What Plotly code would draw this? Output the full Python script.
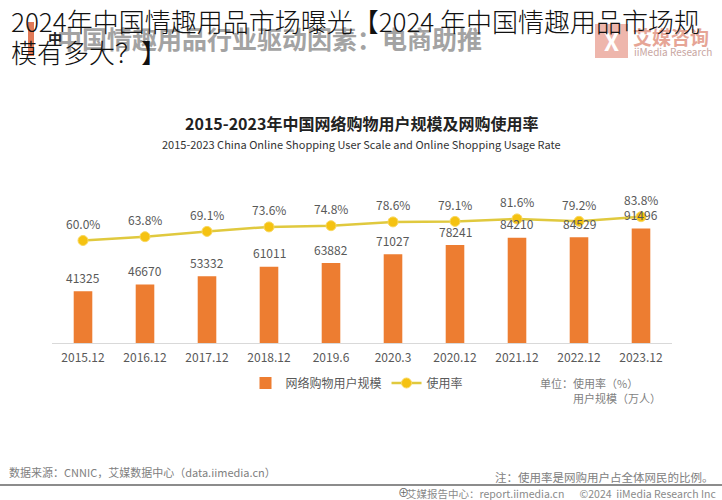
import plotly.graph_objects as go

categories = ["2015.12", "2016.12", "2017.12", "2018.12", "2019.6",
              "2020.3", "2020.12", "2021.12", "2022.12", "2023.12"]
users = [41325, 46670, 53332, 61011, 63882, 71027, 78241, 84210, 84529, 91496]
rates = [60.0, 63.8, 69.1, 73.6, 74.8, 78.6, 79.1, 81.6, 79.2, 83.8]
rate_labels = ["60.0%", "63.8%", "69.1%", "73.6%", "74.8%", "78.6%",
               "79.1%", "81.6%", "79.2%", "83.8%"]

W, H = 722, 500
FONT = "Noto Sans CJK SC"
GRAY = "#595959"

def px(x):
    return x / W

def py(y):
    return 1 - y / H

fig = go.Figure()
fig.add_trace(go.Bar(
    x=categories, y=users, name="网络购物用户规模",
    marker=dict(color="#ED7D31", line=dict(width=0)),
    width=0.3, yaxis="y",
))
fig.add_trace(go.Scatter(
    x=categories, y=rates, name="使用率", mode="lines+markers",
    line=dict(color="#E0C93E", width=2.5),
    marker=dict(color="#F5C211", size=10, line=dict(color="#F9D860", width=1)),
    yaxis="y2",
))

annotations = []
for i, v in enumerate(users):
    annotations.append(dict(x=i, y=v, xref="x", yref="y", text=str(v),
                            showarrow=False, yshift=14, yanchor="middle",
                            font=dict(family=FONT, size=12, color=GRAY)))
for i, (v, t) in enumerate(zip(rates, rate_labels)):
    annotations.append(dict(x=i, y=v, xref="x", yref="y2", text=t,
                            showarrow=False, yshift=17, yanchor="middle",
                            font=dict(family=FONT, size=12, color=GRAY)))

def txt(x, y, text, size, color, xanchor="left", weight=None, family=FONT):
    f = dict(family=family, size=size, color=color)
    if weight:
        f["weight"] = weight
    annotations.append(dict(x=px(x), y=py(y), xref="paper", yref="paper",
                            text=text, showarrow=False, xanchor=xanchor,
                            yanchor="middle", font=f))

# chart titles
txt(361, 123, "2015-2023年中国网络购物用户规模及网购使用率", 16, "#222222", "center", 700)
txt(361, 144, "2015-2023 China Online Shopping User Scale and Online Shopping Usage Rate", 11, "#333333", "center")

# header (behind)
txt(55, 38, "中国情趣用品行业驱动因素：电商助推", 25, "#a3a3a3", "left", 700)
txt(46, 38, "中", 14, "#222222", "left", 700)
# logo text
txt(631, 37, "艾媒咨询", 19, "#e6a596", "left", 700)
txt(632, 52, "iiMedia Research", 10, "#c8a6a2", "left")
txt(611, 41, "X", 24, "#ffffff", "center", 700)

# overlaid black page title
txt(9, 20, "2024年中国情趣用品市场曝光【2024 年中国情趣用品市场规", 26, "#111111", "left", 300)
txt(9, 52, "模有多大？】", 26, "#111111", "left", 300)

# units
txt(538, 383, "单位：使用率（%）", 11, "#7f7f7f")
txt(571, 398, "用户规模（万人）", 11, "#7f7f7f")

# footer
txt(7, 472, "数据来源：CNNIC，艾媒数据中心（data.iimedia.cn）", 11, "#808080")
txt(716, 477, "注：使用率是网购用户占全体网民的比例。", 11.5, "#808080", "right")
txt(718, 493, "艾媒报告中心：report.iimedia.cn　  ©2024  iiMedia Research Inc", 10.5, "#8a8a8a", "right")
txt(403, 492, "⊕", 11, "#666666", "center")

shapes = [
    dict(type="rect", xref="paper", yref="paper", x0=px(28), x1=px(34), y0=py(56), y1=py(22),
         fillcolor="#e07a58", line=dict(width=0), layer="above"),
    dict(type="rect", xref="paper", yref="paper", x0=px(595), x1=px(628), y0=py(58), y1=py(24),
         fillcolor="#eeb6ac", line=dict(width=0), layer="above"),
    dict(type="line", xref="paper", yref="paper", x0=0, x1=1, y0=py(485), y1=py(485),
         line=dict(color="#8c8c8c", width=2)),
]

fig.update_layout(
    width=W, height=H,
    margin=dict(l=0, r=0, t=0, b=0),
    paper_bgcolor="white", plot_bgcolor="white",
    font=dict(family=FONT, size=12, color=GRAY),
    showlegend=True,
    legend=dict(orientation="h", x=px(357), xanchor="center", y=py(383), yanchor="middle",
                font=dict(family=FONT, size=12, color=GRAY), itemwidth=30,
                bgcolor="rgba(0,0,0,0)", traceorder="normal"),
    xaxis=dict(domain=[px(52), px(672)], showgrid=False, zeroline=False,
               showline=True, linecolor="#d9d9d9", linewidth=1, ticks="",
               tickfont=dict(family=FONT, size=12, color=GRAY), type="category",
               range=[-0.5, 9.5], autorange=False, ticklabelstandoff=4),
    yaxis=dict(domain=[py(343), py(170)], range=[0, 138290], visible=False,
               showgrid=False, zeroline=False),
    yaxis2=dict(domain=[py(343), py(170)], range=[-42.5, 130.5], overlaying="y",
                visible=False, showgrid=False, zeroline=False),
    annotations=annotations,
    shapes=shapes,
)

fig.write_html("out.html")
